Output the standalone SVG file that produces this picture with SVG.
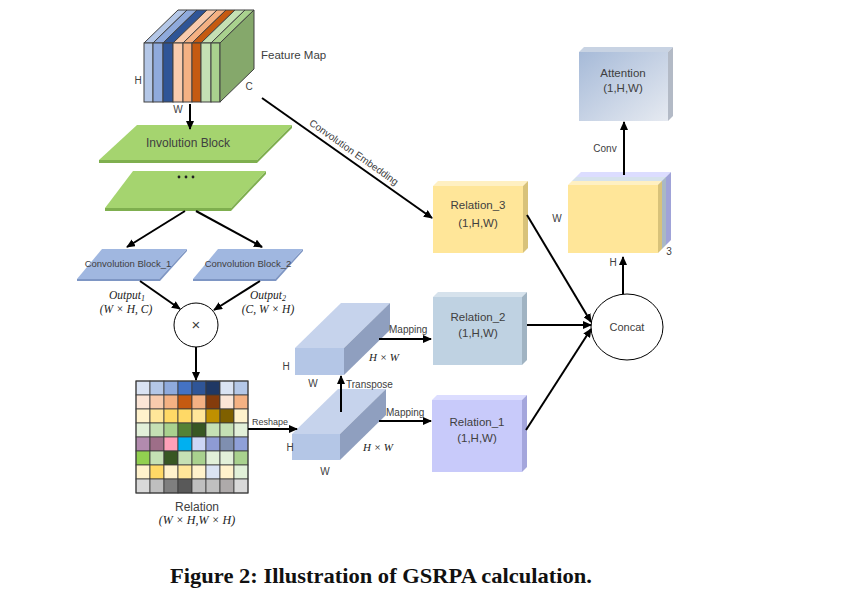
<svg xmlns="http://www.w3.org/2000/svg" width="842" height="594" viewBox="0 0 842 594">
<defs>
<marker id="ah" markerUnits="userSpaceOnUse" markerWidth="9" markerHeight="8" refX="8" refY="4" orient="auto">
<path d="M0,0 L9,4 L0,8 z" fill="#000"/>
</marker>
<linearGradient id="attg" x1="0" y1="0" x2="1" y2="1">
<stop offset="0" stop-color="#A6BAD8"/>
<stop offset="1" stop-color="#E6EAF1"/>
</linearGradient>
<style>
.lbl{font-family:"Liberation Sans",Arial,sans-serif;fill:#404040;}
.math{font-family:"Liberation Serif","Times New Roman",serif;font-style:italic;fill:#222;}
.conn{stroke:#000;stroke-width:2;fill:none;marker-end:url(#ah);}
.line{stroke:#000;stroke-width:2;fill:none;}
.cell{stroke:#3a3a3a;stroke-width:0.8;}
.sl{stroke:#404040;stroke-width:1;}
</style>
</defs>
<rect width="842" height="594" fill="#fff"/>

<g id="feature-map">
<g class="sl">
<polygon points="144,43 153,43 187,10 178,10" fill="#B4C7E7"/><rect x="144" y="43" width="9" height="59" fill="#B4C7E7"/>
<polygon points="153,43 163,43 197,10 187,10" fill="#8FAADC"/><rect x="153" y="43" width="10" height="59" fill="#8FAADC"/>
<polygon points="163,43 173,43 207,10 197,10" fill="#2F5597"/><rect x="163" y="43" width="10" height="59" fill="#2F5597"/>
<polygon points="173,43 183,43 217,10 207,10" fill="#F8CBAD"/><rect x="173" y="43" width="10" height="59" fill="#F8CBAD"/>
<polygon points="183,43 192,43 226,10 217,10" fill="#F4B183"/><rect x="183" y="43" width="9" height="59" fill="#F4B183"/>
<polygon points="192,43 201,43 235,10 226,10" fill="#C55A11"/><rect x="192" y="43" width="9" height="59" fill="#C55A11"/>
<polygon points="201,43 211,43 245,10 235,10" fill="#C5E0B4"/><rect x="201" y="43" width="10" height="59" fill="#C5E0B4"/>
<polygon points="211,43 220,43 254,10 245,10" fill="#A9D18E"/><rect x="211" y="43" width="9" height="59" fill="#A9D18E"/>
<polygon points="220,43 254,10 254,69 220,102" fill="#85A86B"/>
</g>
<text class="lbl" x="138" y="84" font-size="10" text-anchor="middle">H</text>
<text class="lbl" x="178" y="113" font-size="10" text-anchor="middle">W</text>
<text class="lbl" x="249" y="90" font-size="10" text-anchor="middle">C</text>
<text class="lbl" x="261" y="59" font-size="11.5">Feature Map</text>
</g>

<g id="involution-block">
<polygon points="137,125 292,125 257,160 99,160" fill="#A5D46F"/>
<polygon points="99,160 257,160 292,125 292,128 257,163 99,163" fill="#7FAF4F"/>
<text class="lbl" x="188" y="147" font-size="12" text-anchor="middle">Involution Block</text>
</g>

<g id="involution-block-more">
<polygon points="133,171 266,171 231,208 105,208" fill="#A5D46F"/>
<polygon points="105,208 231,208 266,171 266,174 231,211 105,211" fill="#7FAF4F"/>
<circle cx="179" cy="177" r="1.4" fill="#222"/><circle cx="186" cy="177" r="1.4" fill="#222"/><circle cx="193" cy="177" r="1.4" fill="#222"/>
</g>

<g id="conv-block-1">
<polygon points="102,249 187,249 159,279 77,279" fill="#A0B7E0"/>
<polygon points="77,279 159,279 187,249 187,251 160,281 77,281" fill="#7E96C4"/>
<text class="lbl" x="128" y="267" font-size="9.5" text-anchor="middle">Convolution Block_1</text>
</g>

<g id="conv-block-2">
<polygon points="218,249 303,249 275,279 193,279" fill="#A0B7E0"/>
<polygon points="193,279 275,279 303,249 303,251 276,281 193,281" fill="#7E96C4"/>
<text class="lbl" x="248" y="267" font-size="9.5" text-anchor="middle">Convolution Block_2</text>
</g>

<g id="output-labels">
<text class="math" x="127" y="299" font-size="11.5" text-anchor="middle">Output<tspan font-size="8" dy="2">1</tspan></text>
<text class="math" x="126" y="313" font-size="11.5" text-anchor="middle">(W × H, C)</text>
<text class="math" x="268" y="299" font-size="11.5" text-anchor="middle">Output<tspan font-size="8" dy="2">2</tspan></text>
<text class="math" x="268" y="313" font-size="11.5" text-anchor="middle">(C, W × H)</text>
</g>

<g id="multiply">
<circle cx="196" cy="325" r="22" fill="#fff" stroke="#000" stroke-width="1"/>
<text class="lbl" x="196" y="330" font-size="15" text-anchor="middle" fill="#222">×</text>
</g>

<g id="relation-matrix">
<g class="cell">
<rect x="136" y="381" width="14" height="14" fill="#DAE3F3"/><rect x="150" y="381" width="14" height="14" fill="#B4C7E7"/><rect x="164" y="381" width="14" height="14" fill="#8FAADC"/><rect x="178" y="381" width="14" height="14" fill="#4472C4"/><rect x="192" y="381" width="14" height="14" fill="#2F5597"/><rect x="206" y="381" width="14" height="14" fill="#1F3864"/><rect x="220" y="381" width="14" height="14" fill="#DAE3F3"/><rect x="234" y="381" width="14" height="14" fill="#B4C7E7"/>
<rect x="136" y="395" width="14" height="14" fill="#FBE5D6"/><rect x="150" y="395" width="14" height="14" fill="#F8CBAD"/><rect x="164" y="395" width="14" height="14" fill="#F4B183"/><rect x="178" y="395" width="14" height="14" fill="#C55A11"/><rect x="192" y="395" width="14" height="14" fill="#F4B183"/><rect x="206" y="395" width="14" height="14" fill="#843C0C"/><rect x="220" y="395" width="14" height="14" fill="#FBE5D6"/><rect x="234" y="395" width="14" height="14" fill="#F4B183"/>
<rect x="136" y="409" width="14" height="14" fill="#FFF2CC"/><rect x="150" y="409" width="14" height="14" fill="#FFE699"/><rect x="164" y="409" width="14" height="14" fill="#FFD966"/><rect x="178" y="409" width="14" height="14" fill="#FFD966"/><rect x="192" y="409" width="14" height="14" fill="#FFE699"/><rect x="206" y="409" width="14" height="14" fill="#BF9000"/><rect x="220" y="409" width="14" height="14" fill="#7F6000"/><rect x="234" y="409" width="14" height="14" fill="#FFF2CC"/>
<rect x="136" y="423" width="14" height="14" fill="#E2F0D9"/><rect x="150" y="423" width="14" height="14" fill="#C5E0B4"/><rect x="164" y="423" width="14" height="14" fill="#A9D18E"/><rect x="178" y="423" width="14" height="14" fill="#548235"/><rect x="192" y="423" width="14" height="14" fill="#385723"/><rect x="206" y="423" width="14" height="14" fill="#C5E0B4"/><rect x="220" y="423" width="14" height="14" fill="#C5E0B4"/><rect x="234" y="423" width="14" height="14" fill="#E2F0D9"/>
<rect x="136" y="437" width="14" height="14" fill="#B28BAE"/><rect x="150" y="437" width="14" height="14" fill="#9E6E88"/><rect x="164" y="437" width="14" height="14" fill="#FFA0B8"/><rect x="178" y="437" width="14" height="14" fill="#00B0F0"/><rect x="192" y="437" width="14" height="14" fill="#CDD6F5"/><rect x="206" y="437" width="14" height="14" fill="#8E9BD4"/><rect x="220" y="437" width="14" height="14" fill="#7F8FB0"/><rect x="234" y="437" width="14" height="14" fill="#8FA0D8"/>
<rect x="136" y="451" width="14" height="14" fill="#92D050"/><rect x="150" y="451" width="14" height="14" fill="#C5E0B4"/><rect x="164" y="451" width="14" height="14" fill="#385723"/><rect x="178" y="451" width="14" height="14" fill="#C5E0B4"/><rect x="192" y="451" width="14" height="14" fill="#A9D18E"/><rect x="206" y="451" width="14" height="14" fill="#E2F0D9"/><rect x="220" y="451" width="14" height="14" fill="#E2F0D9"/><rect x="234" y="451" width="14" height="14" fill="#A9D18E"/>
<rect x="136" y="465" width="14" height="14" fill="#FFF2CC"/><rect x="150" y="465" width="14" height="14" fill="#FFD966"/><rect x="164" y="465" width="14" height="14" fill="#FFF2CC"/><rect x="178" y="465" width="14" height="14" fill="#FFE699"/><rect x="192" y="465" width="14" height="14" fill="#FFF2CC"/><rect x="206" y="465" width="14" height="14" fill="#DAE3F3"/><rect x="220" y="465" width="14" height="14" fill="#FFF2CC"/><rect x="234" y="465" width="14" height="14" fill="#E2F0D9"/>
<rect x="136" y="479" width="14" height="14" fill="#D9D9D9"/><rect x="150" y="479" width="14" height="14" fill="#BFBFBF"/><rect x="164" y="479" width="14" height="14" fill="#7F7F7F"/><rect x="178" y="479" width="14" height="14" fill="#595959"/><rect x="192" y="479" width="14" height="14" fill="#BFBFBF"/><rect x="206" y="479" width="14" height="14" fill="#BFBFBF"/><rect x="220" y="479" width="14" height="14" fill="#AEAAAA"/><rect x="234" y="479" width="14" height="14" fill="#D9D9D9"/>
</g>
<rect x="136" y="381" width="112" height="112" fill="none" stroke="#3a3a3a" stroke-width="1"/>
<text class="lbl" x="197" y="511" font-size="12" text-anchor="middle">Relation</text>
<text class="math" x="197" y="524" font-size="12" text-anchor="middle">(W × H,W × H)</text>
</g>

<g id="reshaped-tensor">
<polygon points="292,434 340,434 386,389 338,389" fill="#C6D3EC"/>
<polygon points="340,434 386,389 386,415 340,460" fill="#8F9FBF"/>
<rect x="292" y="434" width="48" height="26" fill="#B4C6E6"/>
<text class="lbl" x="290" y="451" font-size="10" text-anchor="middle">H</text>
<text class="lbl" x="325" y="475" font-size="10" text-anchor="middle">W</text>
<text class="math" x="378" y="451" font-size="11" text-anchor="middle">H × W</text>
</g>

<g id="transposed-tensor">
<polygon points="295,348 344,348 390,303 341,303" fill="#C6D3EC"/>
<polygon points="344,348 390,303 390,330 344,375" fill="#8F9FBF"/>
<rect x="295" y="348" width="49" height="27" fill="#B4C6E6"/>
<text class="lbl" x="286" y="370" font-size="10" text-anchor="middle">H</text>
<text class="lbl" x="313" y="387" font-size="10" text-anchor="middle">W</text>
<text class="math" x="384" y="361" font-size="11" text-anchor="middle">H × W</text>
</g>

<g id="relation-3">
<polygon points="433,186 523,186 528,181 438,181" fill="#FFF0C2"/>
<polygon points="523,186 528,181 528,248 523,253" fill="#D8C27A"/>
<rect x="433" y="186" width="90" height="67" fill="#FFE699"/>
<text class="lbl" x="478" y="209" font-size="11.5" text-anchor="middle">Relation_3</text>
<text class="lbl" x="478" y="227" font-size="11.5" text-anchor="middle">(1,H,W)</text>
</g>

<g id="relation-2">
<polygon points="433,297 522,297 527,292 438,292" fill="#D6E2EC"/>
<polygon points="522,297 527,292 527,360 522,365" fill="#A0B3C2"/>
<rect x="433" y="297" width="89" height="68" fill="#BFD2E2"/>
<text class="lbl" x="478" y="321" font-size="11.5" text-anchor="middle">Relation_2</text>
<text class="lbl" x="478" y="337" font-size="11.5" text-anchor="middle">(1,H,W)</text>
</g>

<g id="relation-1">
<polygon points="432,400 522,400 527,395 437,395" fill="#DCDDFF"/>
<polygon points="522,400 527,395 527,467 522,472" fill="#A4A6DC"/>
<rect x="432" y="400" width="90" height="72" fill="#C8CAFA"/>
<text class="lbl" x="477" y="426" font-size="11.5" text-anchor="middle">Relation_1</text>
<text class="lbl" x="477" y="442" font-size="11.5" text-anchor="middle">(1,H,W)</text>
</g>

<g id="concat">
<ellipse cx="627" cy="327" rx="36" ry="33" fill="#fff" stroke="#000" stroke-width="1"/>
<text class="lbl" x="627" y="331" font-size="11" text-anchor="middle">Concat</text>
</g>

<g id="stacked-relations">
<polygon points="576,177 666,177 671,172 581,172" fill="#DCDDFF"/>
<polygon points="666,177 671,172 671,240 666,245" fill="#A0A3D8"/>
<rect x="576" y="177" width="90" height="68" fill="#C8CAFA"/>
<polygon points="572,181 662,181 666,177 576,177" fill="#D6E2EC"/>
<polygon points="662,181 666,177 666,245 662,249" fill="#A9B8C5"/>
<rect x="572" y="181" width="90" height="68" fill="#C9D7E3"/>
<polygon points="568,185 658,185 662,181 572,181" fill="#FFF0C2"/>
<polygon points="658,185 662,181 662,249 658,253" fill="#D8C27A"/>
<rect x="568" y="185" width="90" height="68" fill="#FFE699"/>
<text class="lbl" x="557" y="222" font-size="10" text-anchor="middle">W</text>
<text class="lbl" x="669" y="255" font-size="10" text-anchor="middle">3</text>
<text class="lbl" x="613" y="266" font-size="10" text-anchor="middle">H</text>
</g>

<g id="attention">
<polygon points="579,52 668,52 673,47 584,47" fill="#C8D3E3"/>
<polygon points="668,52 673,47 673,116 668,121" fill="#B3BAC6"/>
<rect x="579" y="52" width="89" height="69" fill="url(#attg)"/>
<text class="lbl" x="623" y="77" font-size="11.5" text-anchor="middle">Attention</text>
<text class="lbl" x="623" y="92" font-size="11.5" text-anchor="middle">(1,H,W)</text>
</g>

<g id="connectors">
<line class="conn" x1="190" y1="104" x2="190" y2="129"/>
<line class="conn" x1="262" y1="98" x2="432" y2="218"/>
<text class="lbl" x="352" y="155" font-size="10" text-anchor="middle" transform="rotate(35.2 352 155)">Convolution Embedding</text>
<line class="conn" x1="185" y1="211" x2="127" y2="247"/>
<line class="conn" x1="196" y1="211" x2="262" y2="247"/>
<line class="conn" x1="140" y1="281" x2="180" y2="309"/>
<line class="conn" x1="260" y1="281" x2="214" y2="310"/>
<line class="conn" x1="196" y1="347" x2="196" y2="380"/>
<line class="conn" x1="248" y1="429" x2="297" y2="429"/>
<text class="lbl" x="252" y="425" font-size="9">Reshape</text>
<line class="conn" x1="341" y1="412" x2="341" y2="376"/>
<text class="lbl" x="346" y="388" font-size="10">Transpose</text>
<line class="conn" x1="379" y1="339" x2="431" y2="339"/>
<text class="lbl" x="389" y="333" font-size="10">Mapping</text>
<line class="conn" x1="379" y1="421" x2="431" y2="421"/>
<text class="lbl" x="386" y="416" font-size="10">Mapping</text>
<line class="conn" x1="527" y1="215" x2="591" y2="322"/>
<line class="conn" x1="527" y1="325" x2="591" y2="325"/>
<line class="conn" x1="526" y1="430" x2="591" y2="329"/>
<line class="conn" x1="623" y1="294" x2="623" y2="257"/>
<line class="conn" x1="624" y1="175" x2="624" y2="122"/>
<text class="lbl" x="605" y="152" font-size="10" text-anchor="middle">Conv</text>
</g>

<text x="381" y="583" font-family="'Liberation Serif','Times New Roman',serif" font-weight="bold" font-size="21" text-anchor="middle" textLength="422" lengthAdjust="spacingAndGlyphs" fill="#111">Figure 2: Illustration of GSRPA calculation.</text>
</svg>
